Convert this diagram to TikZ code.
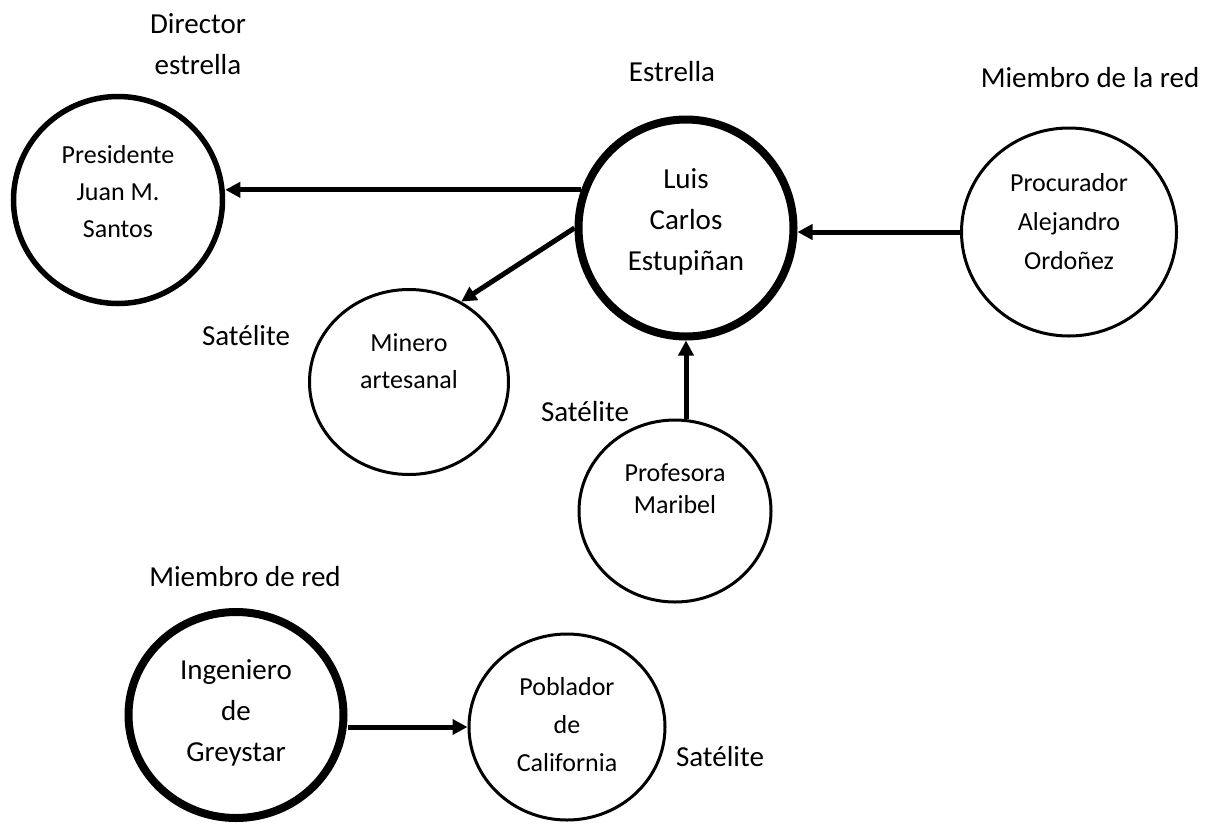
\documentclass[tikz,border=0pt]{standalone}
\usepackage{fontspec}
\setmainfont{Carlito}
\usetikzlibrary{calc,shapes.geometric,arrows.meta}

\begin{document}
\begin{tikzpicture}[x=1pt, y=-1pt,
    actor/.style={draw, ellipse, line width=3pt, inner sep=0pt},
    hub/.style={actor, line width=8pt},
    txt/.style={align=center, font=\fontsize{26}{37}\selectfont},
    tag/.style={align=center, font=\fontsize{29}{41}\selectfont},
    link/.style={line width=5pt, -{Triangle[length=15pt,width=15pt]}}]
\useasboundingbox (0,0) rectangle (1205,823);
\node [actor, line width=5.5pt, minimum width=209, minimum height=207] (presi) at (118,200) {};
                     \node [txt] (presitxt) at ($(presi)+(0,-8)$) {Presidente\\Juan M.\\Santos};
\node [hub, minimum width=215, minimum height=217] (luis) at (686,228) {};
                     \node [txt, font=\fontsize{29}{41}\selectfont] (luistxt) at ($(luis)+(0,-6)$) {Luis\\Carlos\\Estupiñan};
\node [actor, minimum width=215, minimum height=208] (procu) at (1069,232) {};
                     \node [txt, font=\fontsize{26}{39}\selectfont] (procutxt) at ($(procu)+(0,-10)$) {Procurador\\Alejandro\\Ordoñez};
\node [actor, minimum width=199, minimum height=185] (minero) at (409,382) {};
                     \node [txt] (minerotxt) at ($(minero)+(0,-21)$) {Minero\\artesanal};
\node [actor, minimum width=192, minimum height=182] (prof) at (675,511) {};
                     \node [txt, font=\fontsize{26}{32}\selectfont] (proftxt) at ($(prof)+(0,-22)$) {Profesora\\Maribel};
\node [hub, minimum width=215, minimum height=206] (inge) at (236,715) {};
                     \node [txt, font=\fontsize{29}{41}\selectfont] (ingetxt) at ($(inge)+(0,-2)$) {Ingeniero\\de\\Greystar};
\node [actor, minimum width=196, minimum height=186] (pobl) at (567,727) {};
                     \node [txt, font=\fontsize{26}{38}\selectfont] (pobltxt) at ($(pobl)+(0,-2)$) {Poblador\\de\\California};
\node [tag] (director) at (198,44) {Director\\estrella};
\node [tag] (estrella) at (672,72) {Estrella};
\node [tag] (miembro) at (1090,78) {Miembro de la red};
\node [tag] (satmin) at (246,336) {Satélite};
\node [tag] (satprof) at (585,412) {Satélite};
\node [tag] (miembrored) at (245,577) {Miembro de red};
\node [tag] (satpobl) at (720,757) {Satélite};
\draw [link] (luis.160) -- (luis.160 -| presi.east);
\draw [link] (luis.west) -- (minero.57);
\draw [link] (procu.west) -- (procu.west -| luis.east);
\draw [link] (luis.south |- prof.north) -- (luis.south);
\draw [link] (inge.east |- pobl.west) -- (pobl.west); % ties between the actors of the network
\end{tikzpicture}
\end{document}
